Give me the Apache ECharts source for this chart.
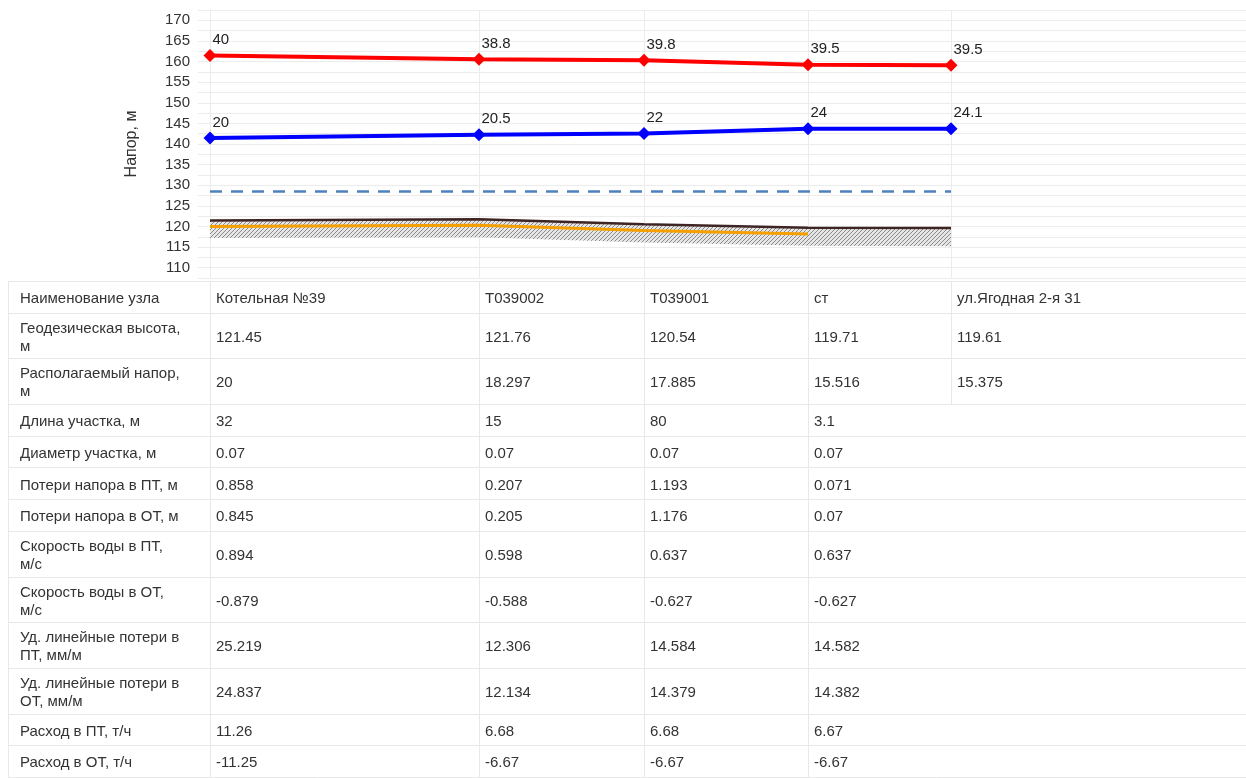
<!DOCTYPE html>
<html><head><meta charset="utf-8">
<script src="https://cdn.jsdelivr.net/npm/echarts/dist/echarts.min.js"></script>
<style>html,body{margin:0;padding:0;background:#fff}#c{width:1246px;height:778px}</style>
</head><body><div id="c"></div>
<script>
// ---------------- data ----------------
const nodeNames = ['Котельная №39', 'T039002', 'T039001', 'ст', 'ул.Ягодная 2-я 31'];
const geoHeight = [121.45, 121.76, 120.54, 119.71, 119.61];
const availHead = [20, 18.297, 17.885, 15.516, 15.375];
const segLength = [32, 15, 80, 3.1];
const segDiameter = [0.07, 0.07, 0.07, 0.07];
const lossSupply = [0.858, 0.207, 1.193, 0.071];
const lossReturn = [0.845, 0.205, 1.176, 0.07];
const velSupply = [0.894, 0.598, 0.637, 0.637];
const velReturn = [-0.879, -0.588, -0.627, -0.627];
const specLossSupply = [25.219, 12.306, 14.584, 14.582];
const specLossReturn = [24.837, 12.134, 14.379, 14.382];
const flowSupply = [11.26, 6.68, 6.68, 6.67];
const flowReturn = [-11.25, -6.67, -6.67, -6.67];
const rowLabels = [
  'Наименование узла', 'Геодезическая высота,\nм', 'Располагаемый напор,\nм',
  'Длина участка, м', 'Диаметр участка, м', 'Потери напора в ПТ, м', 'Потери напора в ОТ, м',
  'Скорость воды в ПТ,\nм/с', 'Скорость воды в ОТ,\nм/с', 'Уд. линейные потери в\nПТ, мм/м',
  'Уд. линейные потери в\nОТ, мм/м', 'Расход в ПТ, т/ч', 'Расход в ОТ, т/ч'
];
const supplyHead = [161.45, 160.56, 160.34, 159.21, 159.11];
const supplyLabels = [40, 38.8, 39.8, 39.5, 39.5];
const returnHead = [141.45, 142.26, 142.54, 143.71, 143.71];
const returnLabels = [20, 20.5, 22, 24, 24.1];
const staticHead = [128.5, 128.5, 128.5, 128.5, 128.5];
const pipeAxis = [120.0, 120.3, 119.0, 118.2];
const groundBottom = [117.2, 117.4, 116.1, 115.3, 115.2];
const yTicks = [110, 115, 120, 125, 130, 135, 140, 145, 150, 155, 160, 165, 170];

// ---------------- layout ----------------
const colWidths = [269, 165, 164, 143, 295];
const nodeX = [];
{ let s = 0; for (let i = 0; i < nodeNames.length; i++) { nodeX.push(s); s += colWidths[i]; } }
const X_END = nodeX[nodeX.length - 1] + colWidths[colWidths.length - 1];
const X_TABLE0 = -202;
const tableValues = [nodeNames, geoHeight, availHead, segLength, segDiameter, lossSupply, lossReturn,
  velSupply, velReturn, specLossSupply, specLossReturn, flowSupply, flowReturn];
const rowH = rowLabels.map(l => 18 + 14 * l.split('\n').length);
const rowTop = [];
{ let s = 0; rowH.forEach(h => { rowTop.push(s); s += h; }); }
const TABLE_H = rowTop[rowTop.length - 1] + rowH[rowH.length - 1];
const FONT = '"Liberation Sans", Arial, sans-serif';
const GRID_C = '#ececec';
const TBL_C = '#e8e8e8';

// hatch pattern
const pc = document.createElement('canvas');
pc.width = 4; pc.height = 4;
{
  const g = pc.getContext('2d');
  g.fillStyle = '#e6e6e6'; g.fillRect(0, 0, 4, 4);
  g.strokeStyle = '#8a8a8a'; g.lineWidth = 1;
  g.beginPath();
  g.moveTo(0, 4); g.lineTo(4, 0);
  g.moveTo(-1, 1); g.lineTo(1, -1);
  g.moveTo(3, 5); g.lineTo(5, 3);
  g.stroke();
}

const xy = arr => arr.map((v, i) => [nodeX[i], v]);

// table cells
const cellData = [];
rowLabels.forEach((l, r) => {
  cellData.push([r, -1]);
  tableValues[r].forEach((v, c) => cellData.push([r, c]));
});
const boundaries = rowTop.concat([TABLE_H]).map(v => [v]);

const chart = echarts.init(document.getElementById('c'), null, { renderer: 'canvas' });
chart.setOption({
  animation: false,
  backgroundColor: '#fff',
  grid: [
    { left: 198, right: 0, top: 10, bottom: 500 },
    { left: 8, right: 0, top: 282, height: TABLE_H }
  ],
  xAxis: [
    { type: 'value', gridIndex: 0, min: -12, max: X_END, show: false },
    { type: 'value', gridIndex: 1, min: X_TABLE0, max: X_END, show: false }
  ],
  yAxis: [
    {
      type: 'value', gridIndex: 0, min: 107.5, max: 172.5, interval: 2.5,
      name: 'Напор, м', nameLocation: 'middle', nameGap: 58,
      nameTextStyle: { fontSize: 16, color: '#333', fontFamily: FONT },
      axisLine: { show: true, lineStyle: { color: GRID_C } },
      axisTick: { show: false },
      axisLabel: {
        fontSize: 15, color: '#333', fontFamily: FONT, margin: 8,
        formatter: v => yTicks.indexOf(v) >= 0 ? String(v) : ''
      },
      splitLine: { show: true, lineStyle: { color: GRID_C, width: 1 } }
    },
    { type: 'value', gridIndex: 1, min: 0, max: TABLE_H, inverse: true, show: false }
  ],
  series: [
    { // vertical grid lines at nodes
      type: 'custom', xAxisIndex: 0, yAxisIndex: 0, z: 1, silent: true,
      data: nodeX.map(x => [x]),
      renderItem: (p, api) => {
        const a = api.coord([api.value(0), 107.5]);
        const b = api.coord([api.value(0), 172.5]);
        return { type: 'line', shape: { x1: a[0] + 0.5, y1: a[1], x2: b[0] + 0.5, y2: b[1] },
          style: { stroke: GRID_C, lineWidth: 1 } };
      }
    },
    { // ground hatch
      type: 'custom', xAxisIndex: 0, yAxisIndex: 0, z: 2, silent: true,
      data: [[0]],
      renderItem: (p, api) => {
        const pts = [];
        geoHeight.forEach((v, i) => pts.push(api.coord([nodeX[i], v])));
        for (let i = groundBottom.length - 1; i >= 0; i--) pts.push(api.coord([nodeX[i], groundBottom[i]]));
        return { type: 'polygon', shape: { points: pts },
          style: { fill: { image: pc, repeat: 'repeat' }, stroke: null } };
      }
    },
    {
      type: 'line', name: 'Ось трубы', xAxisIndex: 0, yAxisIndex: 0, z: 3,
      data: xy(pipeAxis), symbol: 'none',
      lineStyle: { color: '#f5a000', width: 3 }
    },
    {
      type: 'line', name: 'Геодезическая высота', xAxisIndex: 0, yAxisIndex: 0, z: 4,
      data: xy(geoHeight), symbol: 'none',
      lineStyle: { color: '#3f2424', width: 2.5 }
    },
    {
      type: 'line', name: 'Статический напор', xAxisIndex: 0, yAxisIndex: 0, z: 3,
      data: xy(staticHead), symbol: 'none',
      lineStyle: { color: '#4f81bd', width: 2.5, type: [12, 9] }
    },
    {
      type: 'line', name: 'ПТ', xAxisIndex: 0, yAxisIndex: 0, z: 5,
      data: xy(supplyHead), symbol: 'diamond', symbolSize: 13,
      lineStyle: { color: '#ff0000', width: 4 }, itemStyle: { color: '#ff0000' },
      label: { show: true, position: [9, -9], align: 'left', verticalAlign: 'middle',
        fontSize: 15, color: '#222', fontFamily: FONT,
        formatter: p => String(supplyLabels[p.dataIndex]) }
    },
    {
      type: 'line', name: 'ОТ', xAxisIndex: 0, yAxisIndex: 0, z: 5,
      data: xy(returnHead), symbol: 'diamond', symbolSize: 13,
      lineStyle: { color: '#0000ff', width: 4 }, itemStyle: { color: '#0000ff' },
      label: { show: true, position: [9, -9], align: 'left', verticalAlign: 'middle',
        fontSize: 15, color: '#222', fontFamily: FONT,
        formatter: p => String(returnLabels[p.dataIndex]) }
    },
    { // table horizontal lines
      type: 'custom', xAxisIndex: 1, yAxisIndex: 1, z: 1, silent: true,
      data: boundaries,
      renderItem: (p, api) => {
        const a = api.coord([X_TABLE0, api.value(0)]);
        const b = api.coord([X_END, api.value(0)]);
        const y = Math.round(a[1]) - 0.5;
        return { type: 'line', shape: { x1: a[0], y1: y, x2: b[0], y2: y },
          style: { stroke: TBL_C, lineWidth: 1 } };
      }
    },
    { // table cells
      type: 'custom', xAxisIndex: 1, yAxisIndex: 1, z: 2, silent: true,
      data: cellData,
      renderItem: (p, api) => {
        const r = api.value(0), c = api.value(1);
        const x0 = c < 0 ? X_TABLE0 : nodeX[c];
        const tl = api.coord([x0, rowTop[r]]);
        const br = api.coord([x0, rowTop[r] + rowH[r]]);
        const txt = c < 0 ? rowLabels[r] : String(tableValues[r][c]);
        const lx = Math.round(tl[0]) + 0.5;
        return { type: 'group', children: [
          { type: 'line', shape: { x1: lx, y1: tl[1], x2: lx, y2: br[1] },
            style: { stroke: TBL_C, lineWidth: 1 } },
          { type: 'text', style: {
              x: tl[0] + (c < 0 ? 12 : 6), y: (tl[1] + br[1]) / 2 + 1, text: txt,
              font: '15px ' + FONT, fill: '#333', lineHeight: 18,
              align: 'left', verticalAlign: 'middle', textAlign: 'left', textVerticalAlign: 'middle' } }
        ] };
      }
    }
  ]
});
</script>
</body></html>
